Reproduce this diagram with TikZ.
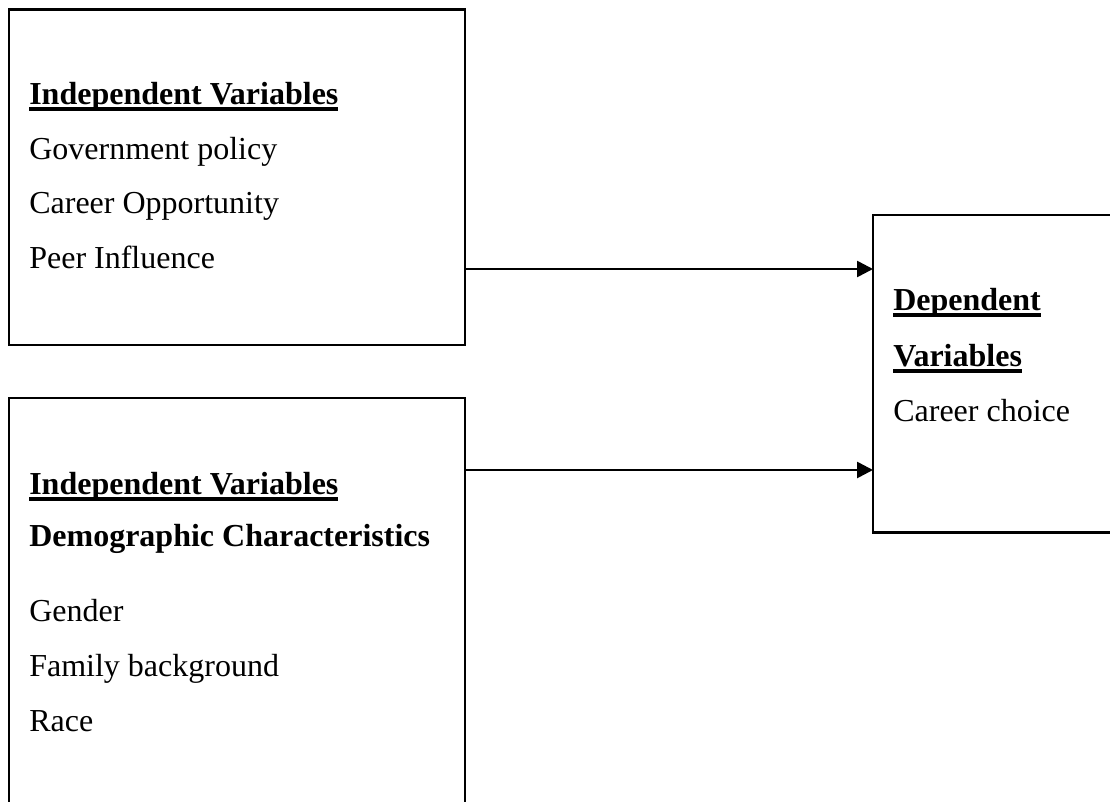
\documentclass[tikz,border=0pt]{standalone}
\usepackage{fontspec}
\setmainfont{Liberation Serif}
\usetikzlibrary{arrows.meta}
\newcommand\myul[1]{\setbox0\hbox{#1}\rlap{\rule[-6.5pt]{\wd0}{3.8pt}}\box0}
\tikzset{
  box/.style={draw=black, line width=2.1pt, rectangle, inner sep=0pt, outer sep=0pt, anchor=north west},
  txt/.style={anchor=base west, inner sep=0pt, outer sep=0pt, font=\fontsize{32}{40}\selectfont},
  hd/.style={txt, font=\fontsize{32}{40}\selectfont\bfseries},
  arr/.style={line width=2.6pt, -{Triangle[length=16pt,width=16pt]}}
}
\begin{document}
\begin{tikzpicture}[x=1pt,y=-1pt]
\useasboundingbox (0,0) rectangle (1110,801);
\clip (0,0) rectangle (1110,801);
\fill[white] (0,0) rectangle (1110,801);
% boxes
\node[box, minimum width=456pt, minimum height=335.2pt] (b1) at (9.3,9.5) {};
\node[box, minimum width=456pt, minimum height=440pt] (b2) at (9.3,398) {};
\node[box, minimum width=270pt, minimum height=317.8pt] (b3) at (873,214.7) {};
% box 1 text
\node[hd] (t11) at (29.3,104) {\myul{Independent Variables}};
\node[txt] (t12) at (29.3,159.3) {Government policy};
\node[txt] (t13) at (29.3,213.5) {Career Opportunity};
\node[txt] (t14) at (29.3,268.3) {Peer Influence};
% box 2 text
\node[hd] (t21) at (29.3,494) {\myul{Independent Variables}};
\node[hd] (t22) at (29.3,546.7) {Demographic Characteristics};
\node[txt] (t23) at (29.3,621) {Gender};
\node[txt] (t24) at (29.3,676) {Family background};
\node[txt] (t25) at (29.3,731.7) {Race};
% box 3 text
\node[hd] (t31) at (893.3,310.7) {\myul{Dependent}};
\node[hd] (t32) at (893.3,366) {\myul{Variables}};
\node[txt] (t33) at (893.3,421.7) {Career choice};
% connectors
\coordinate (r1) at (0,269);
\coordinate (r2) at (0,470);
\draw[arr] (b1.east |- r1) -- (b3.west |- r1);
\draw[arr] (b2.east |- r2) -- (b3.west |- r2);
\end{tikzpicture}
\end{document}
